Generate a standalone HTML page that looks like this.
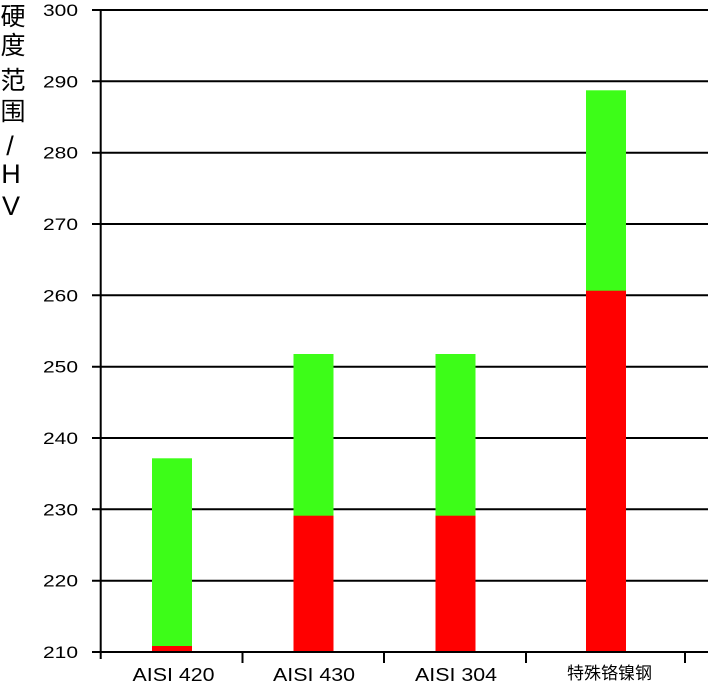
<!DOCTYPE html>
<html>
<head>
<meta charset="utf-8">
<style>
html,body{margin:0;padding:0;background:#fff;}
svg{display:block;}
text{font-family:"Liberation Sans","Noto Sans CJK SC",sans-serif;fill:#000;}
</style>
</head>
<body>
<svg width="709" height="682" viewBox="0 0 709 682" xmlns="http://www.w3.org/2000/svg">
<rect width="709" height="682" fill="#fff"/>
<!-- gridlines -->
<g stroke="#000" stroke-width="2">
<line x1="92" y1="10" x2="708" y2="10"/>
<line x1="92" y1="81.3" x2="708" y2="81.3"/>
<line x1="92" y1="152.7" x2="708" y2="152.7"/>
<line x1="92" y1="224" x2="708" y2="224"/>
<line x1="92" y1="295.3" x2="708" y2="295.3"/>
<line x1="92" y1="366.7" x2="708" y2="366.7"/>
<line x1="92" y1="438" x2="708" y2="438"/>
<line x1="92" y1="509.3" x2="708" y2="509.3"/>
<line x1="92" y1="580.7" x2="708" y2="580.7"/>
</g>
<!-- bars -->
<rect x="152" y="458.3" width="40" height="193.7" fill="#3dfd18"/>
<rect x="152" y="646" width="40" height="6" fill="#ff0000"/>
<rect x="293.5" y="354" width="40" height="298" fill="#3dfd18"/>
<rect x="293.5" y="515.7" width="40" height="136.3" fill="#ff0000"/>
<rect x="435.5" y="354" width="40" height="298" fill="#3dfd18"/>
<rect x="435.5" y="515.7" width="40" height="136.3" fill="#ff0000"/>
<rect x="586" y="90.3" width="40" height="561.7" fill="#3dfd18"/>
<rect x="586" y="290.7" width="40" height="361.3" fill="#ff0000"/>
<!-- axes -->
<g stroke="#000" stroke-width="2">
<line x1="92" y1="652" x2="708" y2="652"/>
<line x1="100.7" y1="10" x2="100.7" y2="659"/>
<line x1="242.5" y1="652" x2="242.5" y2="663"/>
<line x1="384" y1="652" x2="384" y2="663"/>
<line x1="526" y1="652" x2="526" y2="663"/>
<line x1="685" y1="652" x2="685" y2="663"/>
</g>
<!-- y tick labels -->
<g font-size="17" text-anchor="end">
<text x="78" y="16" textLength="35" lengthAdjust="spacingAndGlyphs">300</text>
<text x="78" y="87.3" textLength="35" lengthAdjust="spacingAndGlyphs">290</text>
<text x="78" y="158.7" textLength="35" lengthAdjust="spacingAndGlyphs">280</text>
<text x="78" y="230" textLength="35" lengthAdjust="spacingAndGlyphs">270</text>
<text x="78" y="301.3" textLength="35" lengthAdjust="spacingAndGlyphs">260</text>
<text x="78" y="372.7" textLength="35" lengthAdjust="spacingAndGlyphs">250</text>
<text x="78" y="444" textLength="35" lengthAdjust="spacingAndGlyphs">240</text>
<text x="78" y="515.3" textLength="35" lengthAdjust="spacingAndGlyphs">230</text>
<text x="78" y="586.7" textLength="35" lengthAdjust="spacingAndGlyphs">220</text>
<text x="78" y="658" textLength="35" lengthAdjust="spacingAndGlyphs">210</text>
</g>
<!-- x labels -->
<g font-size="18">
<text x="132.5" y="681" textLength="82" lengthAdjust="spacingAndGlyphs">AISI 420</text>
<text x="273" y="681" textLength="82" lengthAdjust="spacingAndGlyphs">AISI 430</text>
<text x="415" y="681" textLength="82" lengthAdjust="spacingAndGlyphs">AISI 304</text>
</g>
<text x="567" y="679" font-size="17" textLength="85" lengthAdjust="spacingAndGlyphs">特殊铬镍钢</text>
<!-- y axis title -->
<g font-size="25" text-anchor="middle">
<text x="13" y="25">硬</text>
<text x="13" y="54">度</text>
<text x="13" y="89">范</text>
<text x="13" y="120">围</text>
</g>
<g font-size="27" text-anchor="middle">
<text x="10" y="155">/</text>
<text x="11" y="183">H</text>
<text x="11" y="215">V</text>
</g>
</svg>
</body>
</html>
